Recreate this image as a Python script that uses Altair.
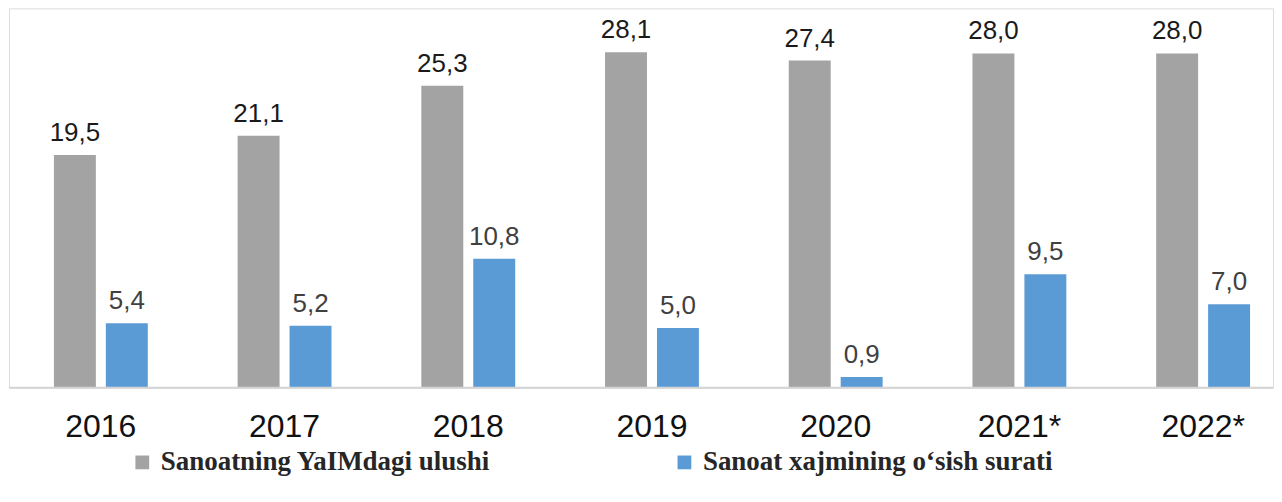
import altair as alt
import pandas as pd

years = ["2016", "2017", "2018", "2019", "2020", "2021*", "2022*"]
share_gdp = [19.5, 21.1, 25.3, 28.1, 27.4, 28.0, 28.0]
growth = [5.4, 5.2, 10.8, 5.0, 0.9, 9.5, 7.0]
series_names = ["Sanoatning YaIMdagi ulushi", "Sanoat xajmining o\u2018sish surati"]
colors = ["#a3a3a3", "#5b9bd5"]

rows = []
for y, a, b in zip(years, share_gdp, growth):
    rows.append({"year": y, "series": series_names[0], "value": a,
                 "label": f"{a:.1f}".replace(".", ",")})
    rows.append({"year": y, "series": series_names[1], "value": b,
                 "label": f"{b:.1f}".replace(".", ",")})
df = pd.DataFrame(rows)
df_years = pd.DataFrame({"year": years})

xscale = alt.Scale(domain=years, range=[0, 1288], paddingInner=0, paddingOuter=0)
x = alt.X("year:N", sort=years, title=None, scale=xscale, axis=None)
xoff = alt.XOffset("series:N", sort=series_names,
                   scale=alt.Scale(paddingInner=0.1923, paddingOuter=0.865))
yscale = alt.Scale(domain=[0, 31.77], nice=False)
y = alt.Y("value:Q", title=None, scale=yscale, axis=None)

bars = alt.Chart(df).mark_bar().encode(
    x=x, xOffset=xoff, y=y,
    color=alt.Color("series:N", sort=series_names,
                    scale=alt.Scale(domain=series_names, range=colors),
                    legend=alt.Legend(title=None, orient="none", legendX=120, legendY=441,
                                      direction="horizontal", symbolType="square",
                                      symbolSize=190, symbolStrokeWidth=0,
                                      labelFont="Liberation Serif", labelFontWeight="bold",
                                      labelFontSize=27, labelColor="#262626",
                                      labelOffset=5, columnPadding=180,
                                      labelLimit=600)),
)

texts = alt.Chart(df).mark_text(baseline="bottom", dy=-9, font="Liberation Sans",
                                fontSize=26).encode(
    x=x, xOffset=xoff, y=y,
    text="label:N",
    color=alt.condition(alt.datum.series == series_names[0],
                        alt.value("#1a1a1a"), alt.value("#404040")),
)

year_labels = alt.Chart(df_years).mark_text(baseline="middle", font="Liberation Sans",
                                            fontSize=32, color="#111111").encode(
    x=x, y=alt.value(419), text="year:N")

baseline = alt.Chart(pd.DataFrame({"v": [0]})).mark_rule(
    color="#d4d4d4", strokeWidth=2).encode(
    x=alt.value(0), x2=alt.value(1266), y=alt.Y("v:Q", scale=yscale, axis=None))

chart = alt.layer(bars, texts, year_labels, baseline).properties(
    width=1266, height=380, padding=0).configure_view(
    stroke="transparent", strokeWidth=0).configure(background="white")

chart.save("out.html", embed_options={"renderer": "svg", "actions": False})
